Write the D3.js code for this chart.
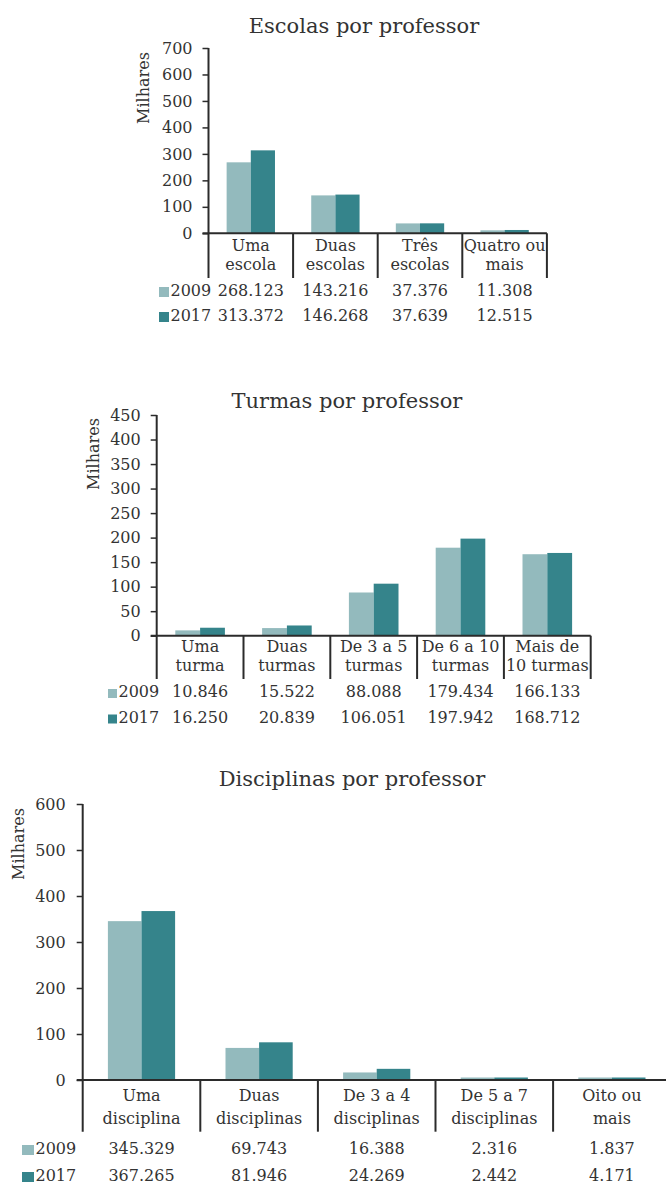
<!DOCTYPE html>
<html><head><meta charset="utf-8">
<script src="https://cdn.jsdelivr.net/npm/d3@7/dist/d3.min.js"></script>
<style>
body{margin:0;background:#fff}
svg{display:block}
text{font-family:"DejaVu Serif",serif;fill:#333}
</style>
</head><body>
<svg id="chart" width="666" height="1186"></svg>
<script>
// ---- data ----
const seriesNames = ["2009", "2017"];
const seriesColors = ["#93babd", "#35848b"];

const escolasCategories = [["Uma", "escola"], ["Duas", "escolas"], ["Três", "escolas"], ["Quatro ou", "mais"]];
const escolas2009 = [268123, 143216, 37376, 11308];
const escolas2017 = [313372, 146268, 37639, 12515];
const escolasTicks = [0, 100, 200, 300, 400, 500, 600, 700];

const turmasCategories = [["Uma", "turma"], ["Duas", "turmas"], ["De 3 a 5", "turmas"], ["De 6 a 10", "turmas"], ["Mais de", "10 turmas"]];
const turmas2009 = [10846, 15522, 88088, 179434, 166133];
const turmas2017 = [16250, 20839, 106051, 197942, 168712];
const turmasTicks = [0, 50, 100, 150, 200, 250, 300, 350, 400, 450];

const disciplinasCategories = [["Uma", "disciplina"], ["Duas", "disciplinas"], ["De 3 a 4", "disciplinas"], ["De 5 a 7", "disciplinas"], ["Oito ou", "mais"]];
const disciplinas2009 = [345329, 69743, 16388, 2316, 1837];
const disciplinas2017 = [367265, 81946, 24269, 2442, 4171];
const disciplinasTicks = [0, 100, 200, 300, 400, 500, 600];

const titles = ["Escolas por professor", "Turmas por professor", "Disciplinas por professor"];
const yLabel = "Milhares";

// ---- rendering ----
const ptLocale = d3.formatLocale({decimal: ",", thousands: ".", grouping: [3], currency: ["", ""]});
const fmt = ptLocale.format(",d");
const svg = d3.select("#chart");
const axisColor = "#2b2b2b";

function drawChart(cfg) {
  const g = svg.append("g");
  const n = cfg.categories.length;
  const ticks = cfg.ticks;
  const x = d3.scaleBand().domain(d3.range(n)).range([cfg.x0, cfg.x0 + cfg.step * n]).padding(0);
  const xs = d3.scaleBand().domain(seriesNames).range([0, x.bandwidth()]).paddingInner(0).paddingOuter(0.75);
  const y = d3.scaleLinear().domain([0, d3.max(ticks)]).range([cfg.y0, cfg.yTop]);
  const color = d3.scaleOrdinal().domain(seriesNames).range(seriesColors);
  const series = [cfg.s2009, cfg.s2017];
  const top = v => Math.min(y(v / 1000), cfg.y0 - 2.5);

  // title
  g.append("text").attr("x", cfg.titleX).attr("y", cfg.titleY)
    .attr("text-anchor", "middle").style("font-size", "21px").text(cfg.title);

  // y label
  g.append("text").attr("transform", `translate(${cfg.yLabelX},${cfg.yLabelY}) rotate(-90)`)
    .attr("text-anchor", "middle").attr("dy", "0.35em").style("font-size", "16px").text(yLabel);

  // bars
  seriesNames.forEach((s, si) => {
    g.append("g").selectAll("rect").data(series[si]).join("rect")
      .attr("x", (d, i) => x(i) + xs(s))
      .attr("width", xs.bandwidth())
      .attr("y", d => top(d))
      .attr("height", d => cfg.y0 - top(d))
      .attr("fill", color(s));
  });

  // y axis
  const ax = g.append("g").attr("transform", `translate(${cfg.x0},0)`)
    .call(d3.axisLeft(y).tickValues(ticks).tickSize(6).tickPadding(cfg.tickPad).tickSizeOuter(0));
  ax.select(".domain").remove();
  ax.selectAll(".tick line").attr("stroke", axisColor).attr("stroke-width", 1.5);
  ax.selectAll(".tick text").style("font-size", "16px").attr("fill", "#333").style("font-family", '"DejaVu Serif",serif');

  // vertical axis line
  g.append("line").attr("x1", cfg.x0).attr("x2", cfg.x0).attr("y1", y(d3.max(ticks))).attr("y2", cfg.yBottom)
    .attr("stroke", axisColor).attr("stroke-width", 2);
  // separators
  g.append("g").selectAll("line").data(d3.range(1, n + 1)).join("line")
    .attr("x1", i => x(0) + i * x.step()).attr("x2", i => x(0) + i * x.step())
    .attr("y1", cfg.y0).attr("y2", cfg.yBottom)
    .attr("stroke", axisColor).attr("stroke-width", 2);
  // baseline
  g.append("line").attr("x1", cfg.x0 - 6).attr("x2", cfg.x0 + cfg.step * n).attr("y1", cfg.y0).attr("y2", cfg.y0)
    .attr("stroke", axisColor).attr("stroke-width", 2);

  // category labels
  const cl = g.append("g").selectAll("text").data(cfg.categories).join("text")
    .attr("text-anchor", "middle").style("font-size", "16px");
  cl.each(function (lines, i) {
    const t = d3.select(this);
    lines.forEach((ln, li) => {
      t.append("tspan").attr("x", x(i) + x.bandwidth() / 2).attr("y", cfg.labelY + li * cfg.labelLH).text(ln);
    });
  });

  // table rows
  seriesNames.forEach((s, si) => {
    const ry = cfg.rowY[si];
    g.append("rect").attr("x", cfg.legX).attr("y", ry - cfg.sqH + 1).attr("width", cfg.sqW).attr("height", cfg.sqH)
      .attr("fill", color(s));
    g.append("text").attr("x", cfg.legX + cfg.sqW + 1.5).attr("y", ry).style("font-size", "16px").text(s);
    g.append("g").selectAll("text").data(series[si]).join("text")
      .attr("x", (d, i) => x(i) + x.bandwidth() / 2).attr("y", ry)
      .attr("text-anchor", "middle").style("font-size", "16px").text(d => fmt(d));
  });
}

drawChart({
  title: titles[0], categories: escolasCategories, s2009: escolas2009, s2017: escolas2017, ticks: escolasTicks,
  x0: 208.5, step: 84.6, y0: 233.3, yTop: 48, yBottom: 278,
  titleX: 364, titleY: 33, yLabelX: 143, yLabelY: 88, tickPad: 10,
  labelY: 250.5, labelLH: 19, rowY: [296, 321], legX: 159, sqW: 10, sqH: 10
});

drawChart({
  title: titles[1], categories: turmasCategories, s2009: turmas2009, s2017: turmas2017, ticks: turmasTicks,
  x0: 156.7, step: 86.8, y0: 635.7, yTop: 415, yBottom: 679,
  titleX: 347, titleY: 408, yLabelX: 93, yLabelY: 454, tickPad: 10,
  labelY: 652, labelLH: 18.5, rowY: [697, 722.5], legX: 108, sqW: 9, sqH: 9
});

drawChart({
  title: titles[2], categories: disciplinasCategories, s2009: disciplinas2009, s2017: disciplinas2017, ticks: disciplinasTicks,
  x0: 82.7, step: 117.6, y0: 1080, yTop: 804, yBottom: 1131.7,
  titleX: 352, titleY: 786, yLabelX: 18, yLabelY: 844, tickPad: 11,
  labelY: 1100.5, labelLH: 23, rowY: [1154, 1181], legX: 22, sqW: 12, sqH: 10
});
</script>
</body></html>
